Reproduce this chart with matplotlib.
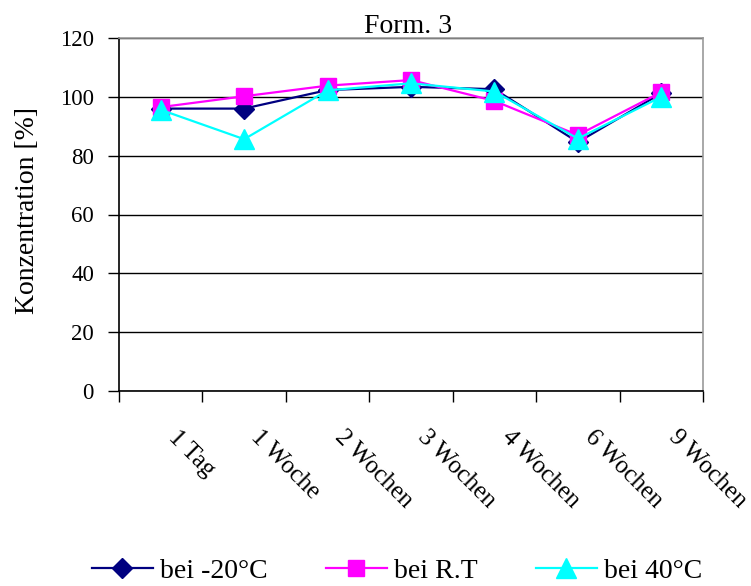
import matplotlib
matplotlib.use("Agg")
import matplotlib.pyplot as plt
from matplotlib.ticker import FixedLocator, NullFormatter

plt.rcParams['font.family'] = ['Liberation Serif', 'DejaVu Serif']

categories = ["1 Tag", "1 Woche", "2 Wochen", "3 Wochen", "4 Wochen", "6 Wochen", "9 Wochen"]
minus20 = [96, 96, 102.3, 103.4, 102.6, 84.6, 101.2]
rt = [96.5, 100.2, 103.8, 105.7, 98.6, 87.0, 101.6]
plus40 = [95.6, 85.6, 102.2, 104.6, 101.8, 85.8, 100.0]
series_names = ["bei -20°C", "bei R.T", "bei 40°C"]
y_ticks = [0, 20, 40, 60, 80, 100, 120]

W, H = 751, 586
fig = plt.figure(figsize=(W / 100, H / 100), dpi=100)
ax = fig.add_axes([119 / W, 1 - 391 / H, (703 - 119) / W, (391 - 38) / H])

x = list(range(len(categories)))
ax.plot(x, minus20, color='#000080', lw=1.6, marker='D', ms=10,
        mfc='#000080', mec='#000080', label=series_names[0], zorder=3)
ax.plot(x, rt, color='#FF00FF', lw=1.6, marker='s', ms=12,
        mfc='#FF00FF', mec='#FF00FF', label=series_names[1], zorder=4)
ax.plot(x, plus40, color='#00FFFF', lw=1.6, marker='^', ms=14.5,
        mfc='#00FFFF', mec='#00FFFF', label=series_names[2], zorder=5)

ax.set_xlim(-0.5, len(categories) - 0.5)
ax.set_ylim(0, 120)
ax.set_yticks(y_ticks)
ax.set_yticklabels([str(v) for v in y_ticks], fontsize=16.5)
ax.yaxis.grid(True, color='black', lw=1.0)
ax.set_axisbelow(True)

# ticks on the category boundaries, labels next to the category centres
ax.xaxis.set_major_locator(FixedLocator([i - 0.5 for i in range(len(categories) + 1)]))
ax.xaxis.set_major_formatter(NullFormatter())
ax.tick_params(axis='x', direction='out', length=8, width=1, color='black')
ax.tick_params(axis='y', direction='out', length=8, width=1, color='black', pad=10)
for i, lab in enumerate(categories):
    ax.text(i + 0.22, -12.0, lab, rotation=-45, rotation_mode='anchor',
            ha='left', va='top', fontsize=18)

ax.spines['left'].set_color('black')
ax.spines['bottom'].set_color('black')
ax.spines['top'].set_color('#999999')
ax.spines['right'].set_color('#999999')
for s in ax.spines.values():
    s.set_linewidth(1.2)

fig.text(28 / W, 1 - 210 / H, "Konzentration [%]", rotation=90,
         ha='center', va='center', fontsize=20)
fig.text(408 / W, 1 - 33 / H, "Form. 3", ha='center', va='baseline', fontsize=20)

fig.legend(loc='center', bbox_to_anchor=(397 / W, 1 - 571 / H), ncol=3, frameon=False,
           fontsize=20, handlelength=2.2, handletextpad=0.25, columnspacing=2.1,
           borderpad=0, borderaxespad=0)

fig.savefig("out.png", dpi=100, facecolor='white')
